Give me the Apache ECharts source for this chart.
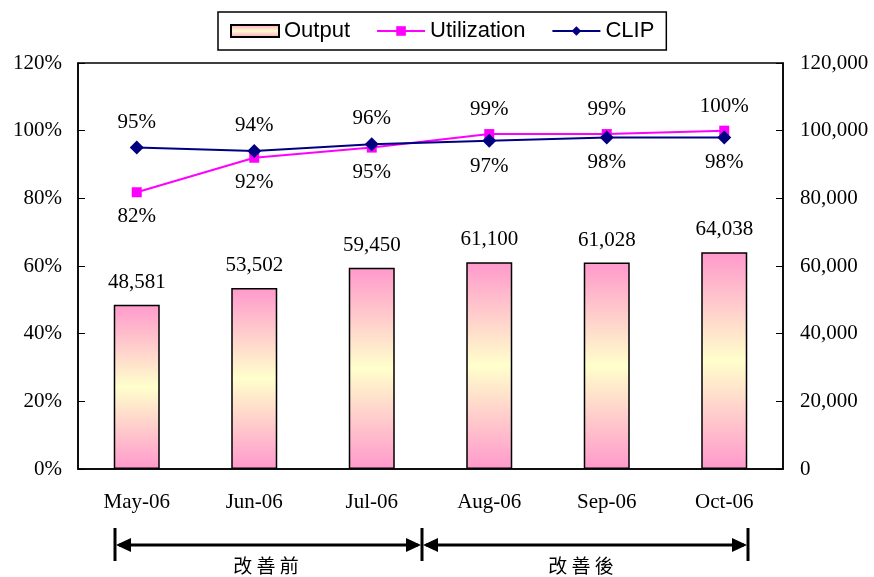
<!DOCTYPE html>
<html>
<head>
<meta charset="utf-8">
<script src="https://cdn.jsdelivr.net/npm/echarts@6/dist/echarts.min.js"></script>
<style>
  html, body { margin: 0; padding: 0; background: #fff; }
  #main { width: 874px; height: 577px; }
</style>
</head>
<body>
<div id="main"></div>
<script>
// 月份
var months = ['May-06', 'Jun-06', 'Jul-06', 'Aug-06', 'Sep-06', 'Oct-06'];
// 产出 (右轴)
var output = [48581, 53502, 59450, 61100, 61028, 64038];
// 稼动率 %
var utilization = [81.8, 92, 95, 99, 99, 100];
// CLIP %
var clip = [95, 94, 96, 97, 98, 98];
// 标签位置: 前三个月 / 后三个月
var utilPos = ['bottom', 'bottom', 'bottom', 'top', 'top', 'top'];
var clipPos = ['top', 'top', 'top', 'bottom', 'bottom', 'bottom'];

var serif = '"Liberation Serif", "Times New Roman", serif';
var cjk = '"Noto Sans CJK TC", "Noto Sans CJK SC", sans-serif';

var myChart = echarts.init(document.getElementById('main'));

var barFill = new echarts.graphic.LinearGradient(0, 0, 0, 1, [
    { offset: 0, color: '#ff99cc' },
    { offset: 0.5, color: '#ffffcc' },
    { offset: 1, color: '#ff99cc' }
]);

function lineData(values, pos) {
    return values.map(function(v, i) {
        return { value: v, label: { position: pos[i] } };
    });
}

// 底部箭头 (改善前 / 改善後)
function arrow(x1, x2, y) {
    var h = 7, len = 16;
    return [
        { type: 'line', shape: { x1: x1 + 4, y1: y, x2: x2 - 4, y2: y }, style: { stroke: '#000', lineWidth: 3 } },
        { type: 'polygon', shape: { points: [[x1 + 1, y], [x1 + len, y - h], [x1 + len, y + h]] }, style: { fill: '#000' } },
        { type: 'polygon', shape: { points: [[x2 - 1, y], [x2 - len, y - h], [x2 - len, y + h]] }, style: { fill: '#000' } }
    ];
}

var ay = 545;
var graphics = []
    .concat(arrow(115, 422, ay))
    .concat(arrow(422, 748, ay))
    .concat([115, 422, 748].map(function(x) {
        return { type: 'line', shape: { x1: x, y1: ay - 17, x2: x, y2: ay + 16 }, style: { stroke: '#000', lineWidth: 3 } };
    }))
    .concat([
        { type: 'text', x: 266, y: 566, style: { text: '改 善 前', font: '19px ' + cjk, fill: '#000', align: 'center', verticalAlign: 'middle' } },
        { type: 'text', x: 581, y: 566, style: { text: '改 善 後', font: '19px ' + cjk, fill: '#000', align: 'center', verticalAlign: 'middle' } }
    ]);

var option = {
    backgroundColor: '#fff',
    animation: false,
    grid: {
        left: 78,
        right: 91,
        top: 63,
        bottom: 108,
        show: true,
        borderColor: '#000',
        borderWidth: 1.5
    },
    legend: {
        left: 218,
        top: 12,
        padding: [8, 12, 8, 12],
        itemGap: 26,
        itemWidth: 48,
        itemHeight: 12,
        borderColor: '#000',
        borderWidth: 1.5,
        textStyle: { fontFamily: '"Liberation Sans", Arial, sans-serif', fontSize: 22, color: '#000' },
        data: [
            { name: 'Output', icon: 'rect' },
            { name: 'Utilization' },
            { name: 'CLIP' }
        ]
    },
    xAxis: {
        type: 'category',
        data: months,
        axisLine: { lineStyle: { color: '#000', width: 1.5 } },
        axisTick: { inside: true, length: 7, lineStyle: { color: '#000' } },
        axisLabel: { fontFamily: serif, fontSize: 21, color: '#000', margin: 23 }
    },
    yAxis: [
        {
            type: 'value',
            min: 0,
            max: 120,
            interval: 20,
            position: 'left',
            splitLine: { show: false },
            axisLine: { show: true, lineStyle: { color: '#000', width: 1.5 } },
            axisTick: { show: true, inside: true, length: 7, lineStyle: { color: '#000' } },
            axisLabel: { fontFamily: serif, fontSize: 21, color: '#000', margin: 16, formatter: '{value}%' }
        },
        {
            type: 'value',
            min: 0,
            max: 120000,
            interval: 20000,
            position: 'right',
            splitLine: { show: false },
            axisLine: { show: true, lineStyle: { color: '#000', width: 1.5 } },
            axisTick: { show: true, inside: true, length: 7, lineStyle: { color: '#000' } },
            axisLabel: {
                fontFamily: serif, fontSize: 21, color: '#000', margin: 17,
                formatter: function(v) { return v.toLocaleString('en-US'); }
            }
        }
    ],
    series: [
        {
            name: 'Output',
            type: 'bar',
            yAxisIndex: 1,
            barWidth: 46,
            data: output,
            itemStyle: { color: barFill, borderColor: '#000', borderWidth: 1.5 },
            label: {
                show: true,
                position: 'top',
                distance: 12,
                fontFamily: serif,
                fontSize: 21,
                color: '#000',
                formatter: function(p) { return p.value.toLocaleString('en-US'); }
            }
        },
        {
            name: 'Utilization',
            type: 'line',
            yAxisIndex: 0,
            data: lineData(utilization, utilPos),
            symbol: 'rect',
            symbolSize: 10,
            lineStyle: { color: '#ff00ff', width: 2 },
            itemStyle: { color: '#ff00ff' },
            label: {
                show: true,
                distance: 9,
                fontFamily: serif,
                fontSize: 21,
                color: '#000',
                formatter: function(p) { return Math.round(p.value) + '%'; }
            },
            z: 3
        },
        {
            name: 'CLIP',
            type: 'line',
            yAxisIndex: 0,
            data: lineData(clip, clipPos),
            symbol: 'diamond',
            symbolSize: 14,
            lineStyle: { color: '#000080', width: 2 },
            itemStyle: { color: '#000080' },
            label: {
                show: true,
                distance: 8,
                fontFamily: serif,
                fontSize: 21,
                color: '#000',
                formatter: function(p) { return Math.round(p.value) + '%'; }
            },
            z: 4
        }
    ],
    graphic: graphics
};

myChart.setOption(option);

window.addEventListener('resize', function() {
    myChart.resize();
});
</script>
</body>
</html>
